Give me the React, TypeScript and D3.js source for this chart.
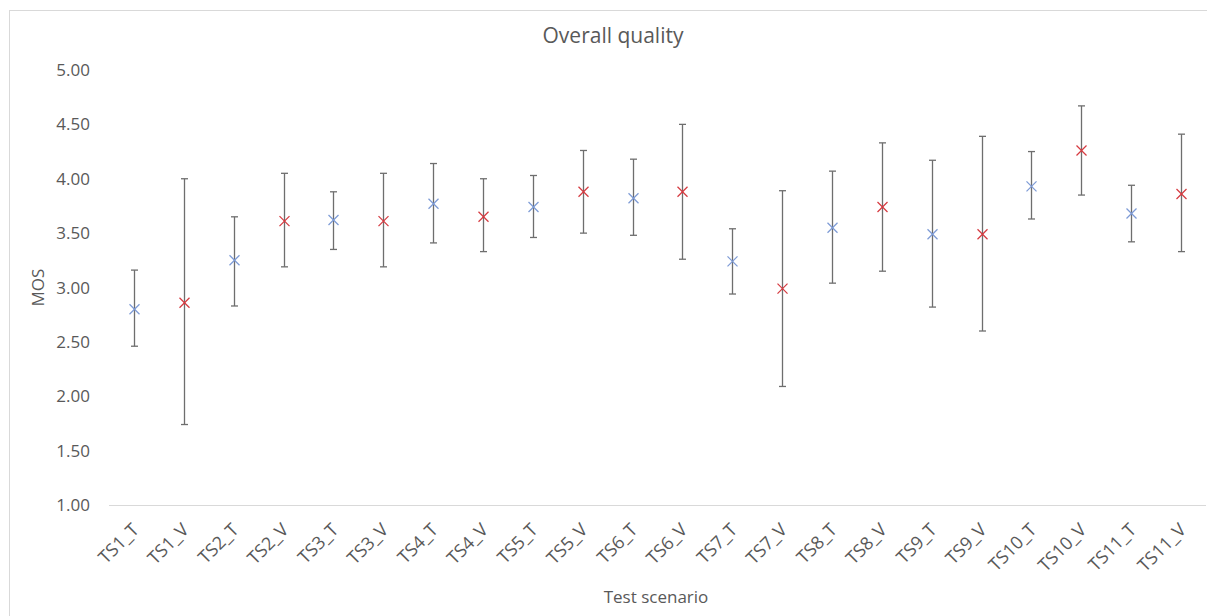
import React from "react";
import * as d3 from "d3";

const categories = [
  "TS1_T", "TS1_V", "TS2_T", "TS2_V", "TS3_T", "TS3_V", "TS4_T", "TS4_V",
  "TS5_T", "TS5_V", "TS6_T", "TS6_V", "TS7_T", "TS7_V", "TS8_T", "TS8_V",
  "TS9_T", "TS9_V", "TS10_T", "TS10_V", "TS11_T", "TS11_V",
];
const mos = [
  2.80, 2.86, 3.25, 3.61, 3.62, 3.61, 3.77, 3.65, 3.74, 3.88, 3.82,
  3.88, 3.24, 2.99, 3.55, 3.74, 3.49, 3.49, 3.93, 4.26, 3.68, 3.86,
];
const errLow = [
  2.46, 1.74, 2.83, 3.19, 3.35, 3.19, 3.41, 3.33, 3.46, 3.50, 3.48,
  3.26, 2.94, 2.09, 3.04, 3.15, 2.82, 2.60, 3.63, 3.85, 3.42, 3.33,
];
const errHigh = [
  3.16, 4.00, 3.65, 4.05, 3.88, 4.05, 4.14, 4.00, 4.03, 4.26, 4.18,
  4.50, 3.54, 3.89, 4.07, 4.33, 4.17, 4.39, 4.25, 4.67, 3.94, 4.41,
];
const yTicks = [1, 1.5, 2, 2.5, 3, 3.5, 4, 4.5, 5];

const W = 1207;
const H = 616;
const FONT = "'Open Sans', sans-serif";
const TXT = "#595959";

export default function App() {
  const x = d3.scaleBand<string>().domain(categories).range([109, 1206]).padding(0);
  const y = d3.scaleLinear().domain([1, 5]).range([505, 70]);
  const cx = (c: string) => (x(c) as number) + x.bandwidth() / 2;
  const m = 5;
  const cap = 3.5;

  return (
    <svg
      width={W}
      height={H}
      style={{ position: "absolute", left: 0, top: 0, background: "#fff" }}
      fontFamily={FONT}
    >
      <rect x={9.5} y={10.5} width={W} height={H} fill="#fff" stroke="#d9d9d9" strokeWidth={1} />
      <text x={613} y={43} textAnchor="middle" fontSize={21} fill={TXT}>
        Overall quality
      </text>
      {yTicks.map((t) => (
        <text key={t} x={90} y={y(t)} dy="0.36em" textAnchor="end" fontSize={17} fill={TXT}>
          {t.toFixed(2)}
        </text>
      ))}
      <line x1={109} x2={1206} y1={y(1) + 0.5} y2={y(1) + 0.5} stroke="#d9d9d9" strokeWidth={1} />
      {categories.map((c) => (
        <text
          key={c}
          transform={`translate(${cx(c) + 6},${531}) rotate(-45)`}
          textAnchor="end"
          fontSize={18}
          fill={TXT}
        >
          {c}
        </text>
      ))}
      <text transform={`translate(44,${y(3)}) rotate(-90)`} textAnchor="middle" fontSize={17} fill={TXT}>
        MOS
      </text>
      <text x={656} y={603} textAnchor="middle" fontSize={17} fill={TXT}>
        Test scenario
      </text>
      {categories.map((c, i) => {
        const px = Math.round(cx(c)) + 0.5;
        const color = c.endsWith("_T") ? "#7d9bd6" : "#d63a40";
        const py = y(mos[i]);
        return (
          <g key={c}>
            <line x1={px} x2={px} y1={y(errLow[i])} y2={y(errHigh[i])} stroke="#6e6e6e" strokeWidth={1.3} />
            <line x1={px - cap} x2={px + cap} y1={y(errLow[i])} y2={y(errLow[i])} stroke="#6e6e6e" strokeWidth={1.3} />
            <line x1={px - cap} x2={px + cap} y1={y(errHigh[i])} y2={y(errHigh[i])} stroke="#6e6e6e" strokeWidth={1.3} />
            <line x1={px - m} x2={px + m} y1={py - m} y2={py + m} stroke={color} strokeWidth={1.3} />
            <line x1={px - m} x2={px + m} y1={py + m} y2={py - m} stroke={color} strokeWidth={1.3} />
          </g>
        );
      })}
    </svg>
  );
}
